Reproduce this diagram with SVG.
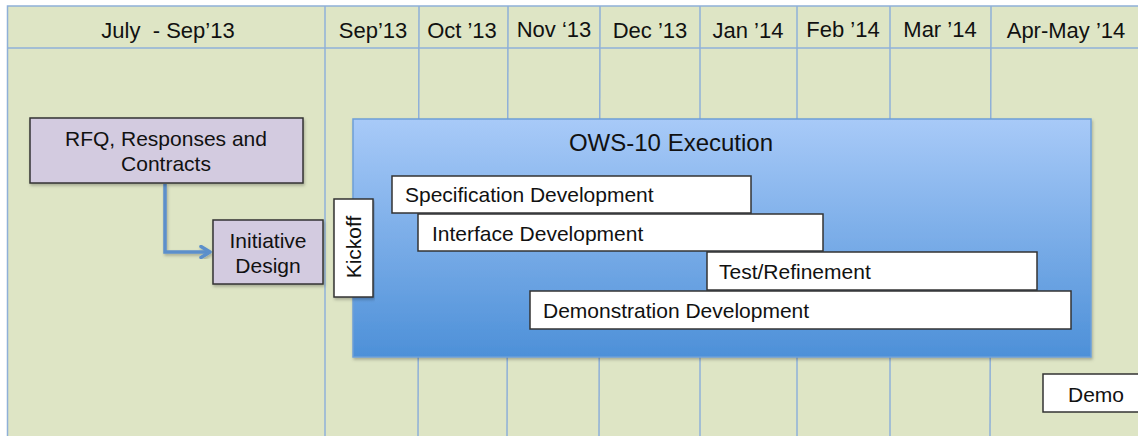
<svg xmlns="http://www.w3.org/2000/svg" width="1138" height="436" viewBox="0 0 1138 436">
<defs>
<linearGradient id="blueGrad" x1="0" y1="0" x2="0" y2="1">
<stop offset="0" stop-color="#a8caf8"/>
<stop offset="1" stop-color="#4d90d8"/>
</linearGradient>
<filter id="sh" x="-5%" y="-5%" width="110%" height="115%">
<feDropShadow dx="1" dy="2" stdDeviation="1.5" flood-color="#000" flood-opacity="0.25"/>
</filter>
<marker id="arr" viewBox="0 0 14 14" refX="11" refY="7" markerWidth="14" markerHeight="14" markerUnits="userSpaceOnUse" orient="auto">
<path d="M2,1.5 L11,7 L2,12.5" fill="none" stroke="#5b8fcb" stroke-width="3.5" stroke-linecap="round" stroke-linejoin="round"/>
</marker>
<style>
text{font-family:"Liberation Sans",Arial,sans-serif;fill:#111;}
.hdr{font-size:22px;text-anchor:middle;}
.grid{stroke:#8fb0d8;stroke-width:1.5;fill:none;}
.bg{fill:#dee5c5;stroke:#8fb0d8;stroke-width:1.5;}
.task{fill:#d3cbe0;stroke:#333;stroke-width:1.5;}
.bar{fill:#ffffff;stroke:#333;stroke-width:1.5;}
.lbl{font-size:21px;}
.mid{text-anchor:middle;}
</style>
</defs>
<rect x="0" y="0" width="1138" height="436" fill="#ffffff"/>
<g id="table">
<rect class="bg" x="7.5" y="6" width="1140" height="440"/>
<line class="grid" x1="7.5" y1="48" x2="1138" y2="48"/>
<line class="grid" x1="325" y1="6" x2="325" y2="436"/>
<line class="grid" x1="419" y1="6" x2="418" y2="436"/>
<line class="grid" x1="508" y1="6" x2="507" y2="436"/>
<line class="grid" x1="600" y1="6" x2="599" y2="436"/>
<line class="grid" x1="700" y1="6" x2="700" y2="436"/>
<line class="grid" x1="797" y1="6" x2="797" y2="436"/>
<line class="grid" x1="890" y1="6" x2="890" y2="436"/>
<line class="grid" x1="991" y1="6" x2="990" y2="436"/>
<text class="hdr" x="168" y="38" xml:space="preserve">July  - Sep’13</text>
<text class="hdr" x="373" y="38">Sep’13</text>
<text class="hdr" x="462" y="38">Oct ’13</text>
<text class="hdr" x="554" y="37">Nov ‘13</text>
<text class="hdr" x="650" y="38">Dec ’13</text>
<text class="hdr" x="748" y="38">Jan ’14</text>
<text class="hdr" x="843" y="37">Feb ’14</text>
<text class="hdr" x="940" y="37">Mar ’14</text>
<text class="hdr" x="1066" y="38">Apr-May ’14</text>
</g>
<g id="connectors">
<path d="M165,184 L165,252 L210,252" fill="none" stroke="#5b8fcb" stroke-width="3.5" marker-end="url(#arr)" filter="url(#sh)"/>
</g>
<g id="rfq">
<rect class="task" x="30" y="118" width="273" height="65" filter="url(#sh)"/>
<text class="lbl mid" x="166" y="146">RFQ, Responses and</text>
<text class="lbl mid" x="166" y="171">Contracts</text>
</g>
<g id="initiative">
<rect class="task" x="213" y="220" width="110" height="64" filter="url(#sh)"/>
<text class="lbl mid" x="268" y="248">Initiative</text>
<text class="lbl mid" x="268" y="273">Design</text>
</g>
<g id="ows10">
<rect x="353" y="119" width="738" height="238" fill="url(#blueGrad)" stroke="#6d9fd8" stroke-width="1.5" filter="url(#sh)"/>
<text x="671" y="151" font-size="24" text-anchor="middle">OWS-10 Execution</text>
</g>
<g id="kickoff">
<rect class="bar" x="334" y="199" width="39" height="98" filter="url(#sh)"/>
<text class="lbl mid" transform="translate(361,247) rotate(-90)">Kickoff</text>
</g>
<g id="spec">
<rect class="bar" x="392" y="176" width="359" height="37"/>
<text class="lbl" x="405" y="202">Specification Development</text>
</g>
<g id="interface">
<rect class="bar" x="418" y="214" width="405" height="37"/>
<text class="lbl" x="432" y="241">Interface Development</text>
</g>
<g id="test">
<rect class="bar" x="707" y="252" width="330" height="38"/>
<text class="lbl" x="719" y="279">Test/Refinement</text>
</g>
<g id="demodev">
<rect class="bar" x="530" y="291" width="541" height="38"/>
<text class="lbl" x="543" y="318">Demonstration Development</text>
</g>
<g id="demo">
<rect class="bar" x="1043" y="374" width="100" height="38"/>
<text class="lbl mid" x="1096" y="402">Demo</text>
</g>
</svg>
